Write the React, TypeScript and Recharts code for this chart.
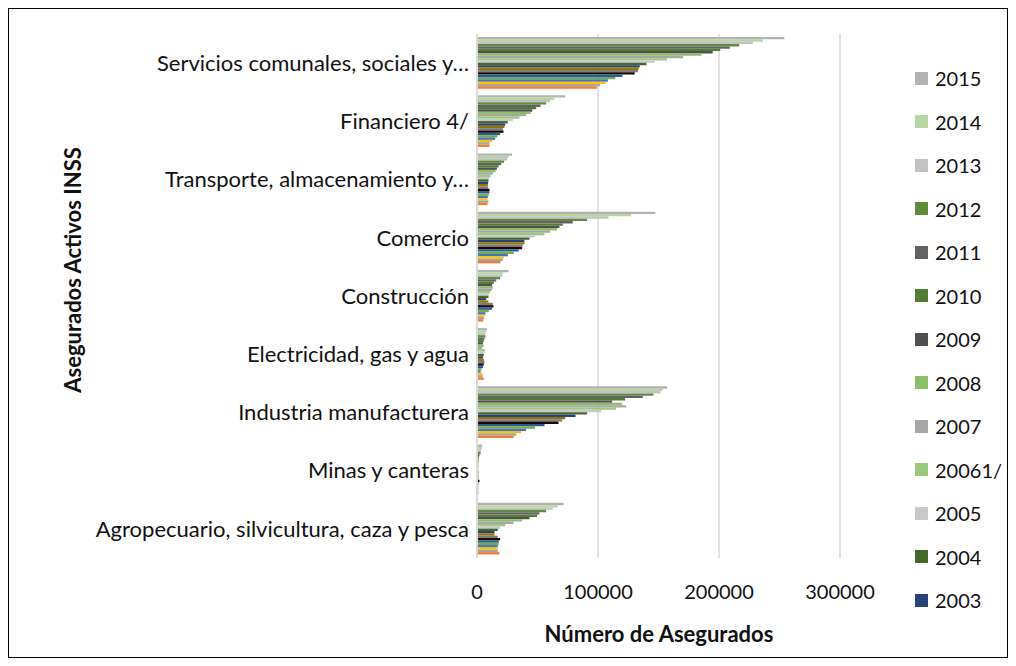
import { BarChart, Bar, XAxis, YAxis, CartesianGrid } from "recharts";

const categories = [
  "Servicios comunales, sociales y…",
  "Financiero 4/",
  "Transporte, almacenamiento y…",
  "Comercio",
  "Construcción",
  "Electricidad, gas y agua",
  "Industria manufacturera",
  "Minas y canteras",
  "Agropecuario, silvicultura, caza y pesca",
];

const xTicks = [0, 100000, 200000, 300000];

// one array per year, in the order of categories above
const v2015 = [254000, 72900, 29000, 147400, 26000, 8100, 157100, 4300, 71400];
const v2014 = [236300, 64000, 26000, 127400, 21300, 7600, 153500, 4000, 66700];
const v2013 = [228000, 60500, 24900, 108600, 20800, 7000, 151600, 3500, 62600];
const v2012 = [216700, 57100, 22400, 91000, 19100, 7000, 145800, 3000, 57100];
const v2011 = [209000, 52500, 20000, 79100, 15900, 6200, 137000, 2100, 51600];
const v2010 = [201000, 48900, 17800, 70900, 13900, 5500, 122400, 1500, 49700];
const v2009 = [194800, 45600, 16400, 68100, 12500, 4900, 111700, 1200, 43400];
const v2008 = [185600, 44200, 15300, 66200, 13100, 5500, 119900, 1500, 37300];
const v2007 = [170300, 40600, 13100, 60500, 12200, 4300, 123200, 1200, 30100];
const v2006 = [157000, 35100, 11200, 55800, 10900, 6700, 115000, 1200, 23300];
const v2005 = [147000, 29600, 10300, 48000, 9800, 6200, 102600, 1000, 19100];
const v2004 = [140000, 25500, 9500, 43400, 9500, 5600, 91000, 1200, 17200];
const v2003 = [134500, 23300, 9200, 39200, 7600, 4900, 81400, 1000, 14500];
const v2002 = [133600, 22700, 9000, 39200, 9500, 5600, 72900, 1200, 14500];
const v2001 = [133000, 21300, 9200, 37800, 13100, 6200, 70400, 1200, 17200];
const v2000 = [130300, 21900, 10300, 37300, 13600, 5600, 67300, 2100, 19100];
const v1999 = [120100, 19100, 10300, 34500, 12500, 4900, 55800, 1200, 18000];
const v1998 = [114300, 16700, 9800, 30400, 9800, 3700, 48000, 1000, 18000];
const v1997 = [108200, 15000, 9000, 25500, 7000, 3000, 40600, 1000, 17200];
const v1996 = [106200, 12500, 8700, 22100, 6200, 4600, 36500, 1200, 17200];
const v1995 = [101800, 10300, 9500, 21300, 5800, 4600, 32400, 1200, 17200];
const v1994 = [99000, 10300, 8700, 19400, 5200, 5600, 30400, 800, 18600];

// top of each group first; only 2015..2003 appear in the legend
const series = [
  { key: "2015", values: v2015, color: "#B2B2B2", legend: true },
  { key: "2014", values: v2014, color: "#B7D7A0", legend: true },
  { key: "2013", values: v2013, color: "#C2C2C2", legend: true },
  { key: "2012", values: v2012, color: "#5E8C3C", legend: true },
  { key: "2011", values: v2011, color: "#636363", legend: true },
  { key: "2010", values: v2010, color: "#507E32", legend: true },
  { key: "2009", values: v2009, color: "#505050", legend: true },
  { key: "2008", values: v2008, color: "#8CBF66", legend: true },
  { key: "2007", values: v2007, color: "#A6A6A6", legend: true },
  { key: "20061/", values: v2006, color: "#9BC97C", legend: true },
  { key: "2005", values: v2005, color: "#C9C9C9", legend: true },
  { key: "2004", values: v2004, color: "#43682B", legend: true },
  { key: "2003", values: v2003, color: "#264478", legend: true },
  { key: "2002", values: v2002, color: "#997300", legend: false },
  { key: "2001", values: v2001, color: "#7C7C7C", legend: false },
  { key: "2000", values: v2000, color: "#220404", legend: false },
  { key: "1999", values: v1999, color: "#255E91", legend: false },
  { key: "1998", values: v1998, color: "#70AD47", legend: false },
  { key: "1997", values: v1997, color: "#4472C4", legend: false },
  { key: "1996", values: v1996, color: "#FFC000", legend: false },
  { key: "1995", values: v1995, color: "#A5A5A5", legend: false },
  { key: "1994", values: v1994, color: "#ED7D31", legend: false },
];

const rows = categories.map((name, i) => {
  const row: Record<string, string | number> = { name };
  series.forEach((s) => {
    row[s.key] = s.values[i];
  });
  return row;
});

const font = "Lato, 'Open Sans', sans-serif";

export default function App() {
  return (
    <div
      style={{
        position: "relative",
        width: 998,
        height: 648,
        border: "1px solid #000",
        fontFamily: font,
        background: "#fff",
      }}
    >
      <BarChart
        width={998}
        height={648}
        data={rows}
        layout="vertical"
        margin={{ top: 25, right: 167, bottom: 39, left: 0 }}
        barGap={0}
        barSize={2.35}
        style={{ fontFamily: font }}
      >
        <CartesianGrid horizontal={false} stroke="#D9D9D9" strokeWidth={1.5} />
        <XAxis
          type="number"
          domain={[0, 300000]}
          ticks={xTicks}
          axisLine={false}
          tickLine={false}
          tickMargin={21}
          height={60}
          tick={{ fontSize: 20, fill: "#111" }}
        />
        <YAxis
          type="category"
          dataKey="name"
          width={468}
          interval={0}
          axisLine={{ stroke: "#D9D9D9", strokeWidth: 2 }}
          tickLine={false}
          tick={{ fontSize: 22, fill: "#111" }}
        />
        {series.map((s) => (
          <Bar
            key={s.key}
            dataKey={s.key}
            fill={s.color}
            legendType={s.legend ? "square" : "none"}
            isAnimationActive={false}
          />
        ))}
      </BarChart>

      <div
        style={{
          position: "absolute",
          left: 650,
          top: 624,
          transform: "translate(-50%, -50%)",
          fontWeight: 700,
          fontSize: 22,
          whiteSpace: "nowrap",
          color: "#111",
        }}
      >
        Número de Asegurados
      </div>
      <div
        style={{
          position: "absolute",
          left: 63,
          top: 261,
          transform: "translate(-50%, -50%) rotate(-90deg)",
          fontWeight: 700,
          fontSize: 22,
          whiteSpace: "nowrap",
          color: "#111",
        }}
      >
        Asegurados Activos INSS
      </div>

      {series
        .filter((s) => s.legend)
        .map((s, i) => (
          <div
            key={s.key}
            style={{
              position: "absolute",
              left: 906,
              top: 69 + i * 43.5,
              transform: "translateY(-50%)",
              display: "flex",
              alignItems: "center",
              fontSize: 20,
              color: "#111",
              whiteSpace: "nowrap",
            }}
          >
            <span
              style={{
                display: "inline-block",
                width: 13,
                height: 13,
                background: s.color,
                marginRight: 7,
              }}
            />
            {s.key}
          </div>
        ))}
    </div>
  );
}
